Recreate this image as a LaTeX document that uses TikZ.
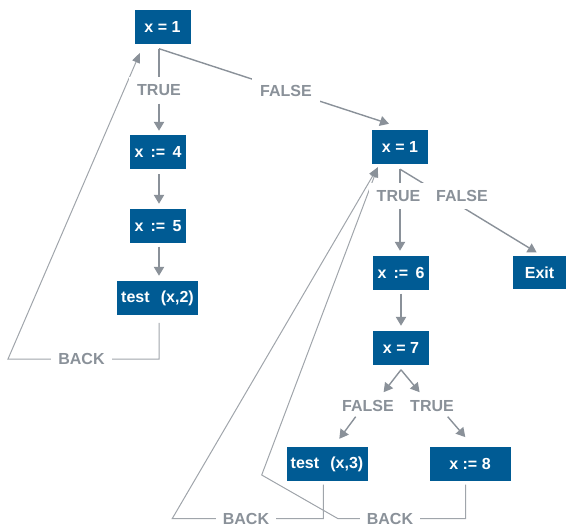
\documentclass[tikz,border=0pt]{standalone}
\usepackage{fontspec}
\setmainfont{Liberation Sans}
\usetikzlibrary{arrows.meta,calc}
\definecolor{boxblue}{RGB}{0,91,148}
\definecolor{linegray}{RGB}{138,145,153}
\definecolor{backgray}{RGB}{160,165,171}
\newcommand\opgap{\hspace{0.45em}}
\newcommand\argap{\hspace{0.7em}}
\begin{document}
\begin{tikzpicture}[x=1pt,y=-1pt,
  font=\fontsize{16}{19}\selectfont\bfseries,
  stmt/.style={fill=boxblue,text=white,minimum height=34pt,inner sep=0pt,minimum width=#1},
  stmt/.default=56pt,
  cond/.style={fill=white,text=linegray,inner xsep=8pt,inner ysep=0pt,minimum height=26pt},
  backlabel/.style={fill=white,text=linegray,inner xsep=7pt,inner ysep=0pt,text height=11pt,text depth=0pt},
  flow/.style={draw=linegray,line width=2.2pt},
  flowarr/.style={flow,-{Triangle[width=10pt,length=9pt]}},
  branch/.style={draw=linegray,line width=1.4pt,-{Triangle[width=10pt,length=9pt]}},
  loop/.style={draw=backgray,line width=1pt,-{Triangle[width=8pt,length=10pt,color=linegray]}},
]
\useasboundingbox (0,0) rectangle (566,527);

% statements
\node[stmt] (A) at (162.5,27) {x = 1};
\node[stmt] (B) at (158,152) {x\opgap:=\opgap4};
\node[stmt] (C) at (158,226) {x\opgap:=\opgap5};
\node[stmt=81pt] (D) at (157.5,298) {test\argap(x,2)};
\node[stmt] (E) at (400,147) {x = 1};
\node[stmt] (F) at (401,273) {x\opgap:=\opgap6};
\node[stmt] (G) at (401,348) {x = 7};
\node[stmt=81pt] (H) at (327,464) {test\argap(x,3)};
\node[stmt=81pt] (I) at (470,464) {x := 8};
\node[stmt=53pt,minimum height=33pt] (J) at (539.5,272.5) {Exit};

% ports
\coordinate (a-out) at ($(A.south)+(-3.5,4.5)$);
\coordinate (a-back) at ($(A.south west)+(5.7,8.6)$);
\coordinate (e-in) at ($(E.north)+(-11,-6)$);
\coordinate (e-out) at ($(E.south)+(0,5)$);
\coordinate (e-back) at ($(E.south west)+(6,3)$);
\coordinate (j-in) at ($(J.north)+(-2.8,-3.3)$);
\coordinate (d-out) at ($(D.south)+(1.5,7.7)$);
\coordinate (g-out) at ($(G.south)+(0,4.6)$);
\coordinate (h-out) at ($(H.south)+(-3.7,3.3)$);
\coordinate (i-out) at ($(I.south)+(-4.3,3.3)$);
\coordinate (loop1) at (8,359);
\coordinate (loop2) at (172.3,518.5);
\coordinate (loop3a) at (337.7,518.5);
\coordinate (loop3b) at (261.7,475);

% edges that pass behind their labels
\draw[branch] (a-out) -- (e-in);
\draw[branch] (e-out) -- (j-in);
\draw[loop] (d-out) |- (loop1) -- (a-back);
\draw[loop] (h-out) |- (loop2) -- (e-back);
\draw[loop] (i-out) |- (loop3a) -- (loop3b) -- (e-back);

% labels
\node[cond] (T1) at (159,90.5) {TRUE};
\node[cond] (F1) at (286,90.5) {FALSE};
\node[cond] (T2) at (398.5,196) {TRUE};
\node[cond] (F2) at (462,196) {FALSE};
\node[cond] (F3) at (368,406) {FALSE};
\node[cond] (T3) at (432,406) {TRUE};
\node[backlabel] (K1) at (81.5,359) {BACK};
\node[backlabel] (K2) at (246,518.5) {BACK};
\node[backlabel] (K3) at (390,518.5) {BACK};

% straight flow
\draw[flow] (a-out) -- (T1.north -| a-out);
\draw[flowarr,shorten >=4pt] (T1.south -| a-out) -- (B.north -| a-out);
\draw[flowarr,shorten <=5pt,shorten >=5pt] (B.south -| a-out) -- (C.north -| a-out);
\draw[flowarr,shorten <=3.5pt,shorten >=5pt] (C.south -| a-out) -- (D.north -| a-out);
\draw[flow] (e-out) -- (T2.north -| e-out);
\draw[flowarr,shorten >=5pt] (T2.south -| e-out) -- (F.north -| e-out);
\draw[flowarr,shorten <=3.5pt,shorten >=5pt] (F.south) -- (G.north);

% branches of x = 7
\draw[branch] (g-out) -- ++(-17.4,22.4);
\draw[branch] (g-out) -- ++(18.6,22.4);
\draw[branch] ($(F3.center)+(-12.3,10.7)$) -- ($(H.north)+(12.3,-8)$);
\draw[branch] ($(T3.center)+(15.7,10.7)$) -- ($(I.north)+(-4.7,-9.7)$);
\end{tikzpicture}
\end{document}
